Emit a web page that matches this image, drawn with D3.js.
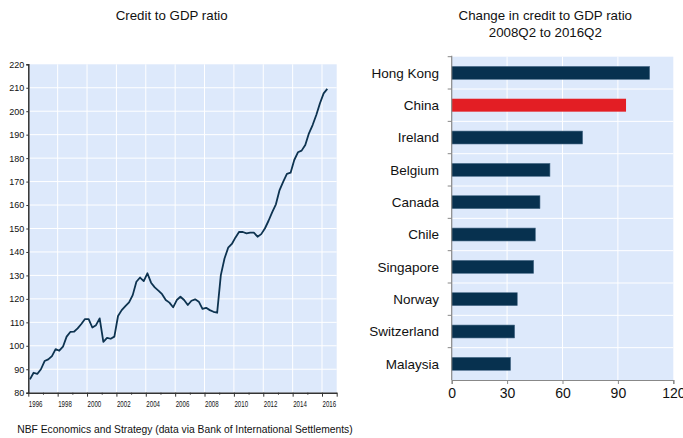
<!DOCTYPE html>
<html>
<head>
<meta charset="utf-8">
<script src="https://cdn.jsdelivr.net/npm/d3@7/dist/d3.min.js"></script>
<style>
  html, body { margin: 0; padding: 0; background: #ffffff; }
  svg { display: block; }
  text { font-family: "Liberation Sans", Arial, sans-serif; fill: #111; }
  .narrow { font-family: "Liberation Sans Narrow", "Arial Narrow", "Liberation Sans", sans-serif; }
</style>
</head>
<body>
<svg id="chart" width="683" height="438"></svg>
<script>
// Credit to GDP ratio, China, quarterly 1996Q1 - 2016Q2
const startYear = 1996;
const creditRatio = [
  85.7, 88.5, 88.0, 90.0,
  93.5, 94.2, 95.6, 98.6,
  97.9, 99.6, 103.9, 105.9,
  106.0, 107.4, 109.3, 111.4,
  111.4, 107.8, 108.8, 111.7,
  101.7, 103.4, 103.0, 103.9,
  112.7, 115.2, 116.9, 118.5,
  121.6, 127.3, 129.1, 127.6,
  130.9, 126.9, 124.9, 123.5,
  122.0, 119.5, 118.4, 116.4,
  119.5, 120.9, 119.5, 117.4,
  119.2, 119.8, 118.8, 115.7,
  116.2, 115.2, 114.5, 114.1,
  130.1, 137.2, 141.8, 143.4,
  146.2, 148.6, 148.5, 147.9,
  148.2, 148.2, 146.5, 147.6,
  150.0, 153.3, 157.0, 160.3,
  166.4, 170.0, 173.3, 173.8,
  179.2, 182.5, 183.2, 185.6,
  190.6, 194.1, 198.4, 203.4,
  207.6, 209.5
];
const yearTicks = [1996, 1998, 2000, 2002, 2004, 2006, 2008, 2010, 2012, 2014, 2016];
const ratioTicks = [80, 90, 100, 110, 120, 130, 140, 150, 160, 170, 180, 190, 200, 210, 220];

// Change in credit to GDP ratio, 2008Q2 to 2016Q2
const countries = ["Hong Kong", "China", "Ireland", "Belgium", "Canada",
                   "Chile", "Singapore", "Norway", "Switzerland", "Malaysia"];
const changes = [107.2, 94.4, 70.9, 53.2, 47.8, 45.3, 44.4, 35.5, 34.1, 31.9];
const changeTicks = [0, 30, 60, 90, 120];
const highlight = "China";

const bgFill = "#dde9fb";
const navy = "#07314f";
const red = "#e31e24";

const svg = d3.select("#chart");

// ---------- left panel: line chart ----------
const L = { left: 28.3, right: 336.7, top: 64.3, bottom: 392.7 };
const x = d3.scaleLinear().domain([1996, 2017]).range([L.left, L.right]);
const y = d3.scaleLinear().domain([80, 220]).range([L.bottom, L.top]);

const left = svg.append("g");
left.append("rect")
  .attr("x", L.left).attr("y", L.top)
  .attr("width", L.right - L.left).attr("height", L.bottom - L.top)
  .attr("fill", bgFill);

// gridlines
left.append("g").selectAll("line")
  .data(ratioTicks.slice(1, -1))
  .join("line")
  .attr("x1", L.left).attr("x2", L.right)
  .attr("y1", d => y(d)).attr("y2", d => y(d))
  .attr("stroke", "#fff").attr("stroke-width", 1);
left.append("g").selectAll("line")
  .data(yearTicks.slice(1))
  .join("line")
  .attr("x1", d => x(d)).attr("x2", d => x(d))
  .attr("y1", L.top).attr("y2", L.bottom)
  .attr("stroke", "#fff").attr("stroke-width", 1);

// y axis
const yAxis = d3.axisLeft(y).tickValues(ratioTicks).tickSize(2).tickPadding(2);
const yg = left.append("g").attr("transform", `translate(${L.left},0)`).call(yAxis);
yg.select(".domain").attr("stroke", "#333").attr("stroke-width", 1.5);
yg.selectAll(".tick line").attr("stroke", "#333");
yg.selectAll(".tick text")
  .attr("class", "narrow")
  .attr("font-size", 9)
  .attr("fill", "#222");

// x axis: minor ticks every year, labels centred within the labelled year
const allYears = d3.range(1996, 2018);
const xAxis = d3.axisBottom(x).tickValues(allYears)
  .tickSize(0).tickFormat("");
const xg = left.append("g").attr("transform", `translate(0,${L.bottom})`).call(xAxis);
xg.select(".domain").attr("stroke", "#333").attr("stroke-width", 1.5);
xg.selectAll(".tick line")
  .attr("stroke", "#333")
  .attr("y2", d => (d % 2 === 0 || d === 2017) ? 4 : 2);
left.append("g").selectAll("text")
  .data(yearTicks)
  .join("text")
  .attr("class", "narrow")
  .attr("font-size", 9)
  .attr("fill", "#222")
  .attr("text-anchor", "middle")
  .attr("transform", d => `translate(${x(d + 0.5)},${L.bottom + 14}) scale(0.68,1)`)
  .text(d => d);

// line
const line = d3.line()
  .x((d, i) => x(startYear + i * 0.25 + 0.11))
  .y(d => y(d));
left.append("path")
  .datum(creditRatio)
  .attr("d", line)
  .attr("fill", "none")
  .attr("stroke", "#0d3350")
  .attr("stroke-width", 1.8)
  .attr("stroke-linejoin", "round");

left.append("text")
  .attr("x", 171.7).attr("y", 20)
  .attr("text-anchor", "middle")
  .attr("font-size", 13.3)
  .text("Credit to GDP ratio");

// ---------- right panel: horizontal bars ----------
const R = { left: 451.7, right: 673.3, top: 56.7, bottom: 380 };
const xb = d3.scaleLinear().domain([0, 120]).range([R.left, R.right]);
const yb = d3.scaleBand().domain(countries).range([R.top, R.bottom]).paddingInner(0.6).paddingOuter(0.3);

const right = svg.append("g");
right.append("rect")
  .attr("x", R.left).attr("y", R.top)
  .attr("width", R.right - R.left).attr("height", R.bottom - R.top)
  .attr("fill", bgFill);

const step = (R.bottom - R.top) / countries.length;
right.append("g").selectAll("line")
  .data(d3.range(1, countries.length))
  .join("line")
  .attr("x1", R.left).attr("x2", R.right)
  .attr("y1", i => R.top + i * step).attr("y2", i => R.top + i * step)
  .attr("stroke", "#fff").attr("stroke-width", 1);
right.append("g").selectAll("line")
  .data(changeTicks.slice(1, -1))
  .join("line")
  .attr("x1", d => xb(d)).attr("x2", d => xb(d))
  .attr("y1", R.top).attr("y2", R.bottom)
  .attr("stroke", "#fff").attr("stroke-width", 1);

right.append("g").selectAll("rect")
  .data(countries)
  .join("rect")
  .attr("x", xb(0))
  .attr("y", d => yb(d))
  .attr("width", (d, i) => xb(changes[i]) - xb(0))
  .attr("height", yb.bandwidth())
  .attr("fill", d => d === highlight ? red : navy)
  .attr("stroke", d => d === highlight ? "none" : "#4d6f8c")
  .attr("stroke-width", 0.6);

// category axis
const cat = right.append("g");
cat.append("line")
  .attr("x1", R.left).attr("x2", R.left)
  .attr("y1", R.top - 1).attr("y2", R.bottom)
  .attr("stroke", "#888").attr("stroke-width", 1.2);
cat.selectAll("line.tk")
  .data(d3.range(0, countries.length))
  .join("line")
  .attr("class", "tk")
  .attr("x1", R.left - 4).attr("x2", R.left)
  .attr("y1", i => R.top + i * step).attr("y2", i => R.top + i * step)
  .attr("stroke", "#888");
cat.selectAll("text")
  .data(countries)
  .join("text")
  .attr("x", 439)
  .attr("y", d => yb(d) + yb.bandwidth() / 2)
  .attr("dy", "0.35em")
  .attr("text-anchor", "end")
  .attr("font-size", 13.5)
  .text(d => d);

// value axis
const xbAxis = d3.axisBottom(xb).tickValues(changeTicks).tickSize(4).tickPadding(4);
const xbg = right.append("g").attr("transform", `translate(0,${R.bottom})`).call(xbAxis);
xbg.select(".domain").attr("stroke", "#888").attr("stroke-width", 1.2);
xbg.selectAll(".tick line").attr("stroke", "#888");
xbg.selectAll(".tick text")
  .attr("font-family", "'Liberation Sans', Arial, sans-serif")
  .attr("font-size", 14)
  .attr("fill", "#111");

right.append("text")
  .attr("x", 545.3).attr("y", 20)
  .attr("text-anchor", "middle")
  .attr("font-size", 13.3)
  .text("Change in credit to GDP ratio");
right.append("text")
  .attr("x", 545.3).attr("y", 36.5)
  .attr("text-anchor", "middle")
  .attr("font-size", 13.3)
  .text("2008Q2 to 2016Q2");

// source note
svg.append("text")
  .attr("x", 17.3).attr("y", 432.5)
  .attr("font-size", 10.3)
  .text("NBF Economics and Strategy (data via Bank of International Settlements)");
</script>
</body>
</html>
